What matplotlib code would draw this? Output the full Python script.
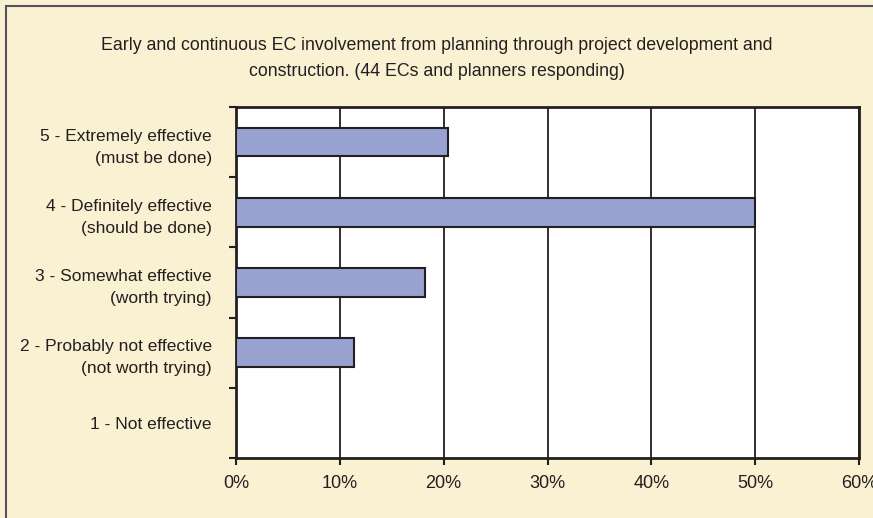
import matplotlib
matplotlib.use("Agg")
import matplotlib.pyplot as plt
from matplotlib.patches import Rectangle
from matplotlib.ticker import FuncFormatter, FixedLocator

# ----------------------------------------------

categories = [
    "1 - Not effective",
    "2 - Probably not effective\n(not worth trying)",
    "3 - Somewhat effective\n(worth trying)",
    "4 - Definitely effective\n(should be done)",
    "5 - Extremely effective\n(must be done)",
]
percent = [0.0, 11.36, 18.18, 50.0, 20.45]
xticks = [0, 10, 20, 30, 40, 50, 60]
title = ("Early and continuous EC involvement from planning through project development and\n"
         "construction. (44 ECs and planners responding)")

bgColor = "#FAF0D2"
barColor = "#98A2D0"
lineColor = "#231F20"

plt.rcParams['font.family'] = ['Liberation Sans', 'DejaVu Sans']

# ----------------------------------------------

fig = plt.figure(figsize=(8.73, 5.18), dpi=100, facecolor=bgColor)
fig.patches.append(Rectangle((6/873, -0.2), 1.2, 1.2 - 5.5/518, transform=fig.transFigure,
                             facecolor="none", edgecolor="#555555", linewidth=1.5))

ax = fig.add_axes([236/873, 1 - 458/518, 623/873, 351/518])
ax.set_facecolor("white")

ypos = list(range(len(categories)))
ax.barh(ypos, percent, height=0.41, color=barColor, edgecolor=lineColor, linewidth=1.5, zorder=3)

ax.set_xlim(0, 60)
ax.set_ylim(-0.5, len(categories) - 0.5)
ax.set_xticks(xticks)
ax.xaxis.set_major_formatter(FuncFormatter(lambda v, p: "{:d}%".format(int(v))))
ax.grid(axis="x", color=lineColor, linewidth=1.3, zorder=1)

ax.set_yticks(ypos)
ax.set_yticklabels(categories, fontsize=12.5, color=lineColor, linespacing=1.6)
ax.yaxis.set_minor_locator(FixedLocator([i - 0.5 for i in range(len(categories) + 1)]))
ax.tick_params(axis="y", which="major", length=0, pad=17.5)
ax.tick_params(axis="y", which="minor", length=5, width=1.5, color=lineColor)
ax.tick_params(axis="x", length=5, width=1.5, color=lineColor, labelsize=13, labelcolor=lineColor, pad=7)

for s in ax.spines.values():
    s.set_color(lineColor)
    s.set_linewidth(2)

fig.text(0.5, 1 - 58.5/518, title, ha="center", va="center", fontsize=12.8, color=lineColor, linespacing=1.75)

fig.savefig("out.png", dpi=100, facecolor=bgColor)
